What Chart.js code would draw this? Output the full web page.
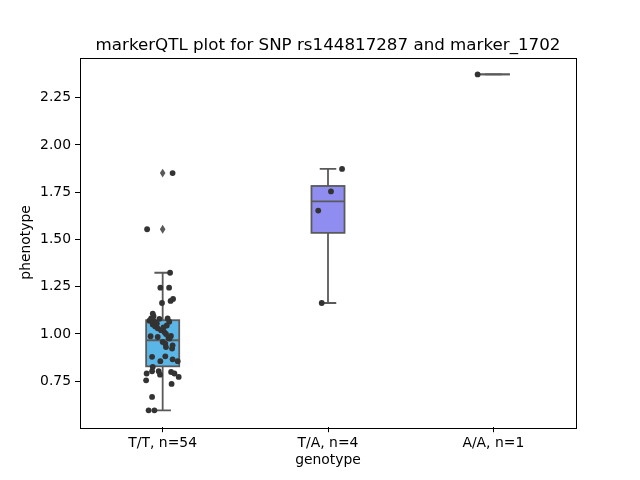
<!DOCTYPE html>
<html>
<head>
<meta charset="utf-8">
<script src="https://cdn.jsdelivr.net/npm/chart.js@4.4.1/dist/chart.umd.min.js"></script>
<style>html,body{margin:0;padding:0;background:#fff}</style>
</head>
<body>
<canvas id="c" width="640" height="480"></canvas>
<script>
const FONT = "'DejaVu Sans', sans-serif";
const TITULO = 'markerQTL plot for SNP rs144817287 and marker_1702';

// categorias y etiquetas
const genotypes = ['T/T', 'T/A', 'A/A'];
const tickLabels = ['T/T, n=54', 'T/A, n=4', 'A/A, n=1'];
const yTicks = [0.75, 1.00, 1.25, 1.50, 1.75, 2.00, 2.25];
const boxColors = ['#5ab6e6', '#8f8ef0', '#e88fe8'];

// estadisticas de las cajas
const q1 = [0.829, 1.535, 2.373];
const med = [0.967, 1.702, 2.373];
const q3 = [1.073, 1.783, 2.373];
const whiskLo = [0.596, 1.164, 2.373];
const whiskHi = [1.324, 1.873, 2.373];
const fliers = [[1.554, 1.851], [], []];

// puntos (valor y desplazamiento horizontal del jitter)
const ttValues = [1.851, 1.554, 1.324, 1.245, 1.245, 1.164, 1.175, 1.185, 1.108, 1.082,
  1.080, 1.082, 1.095, 1.070, 1.065, 1.050, 1.040, 1.030, 1.020, 1.010,
  1.000, 0.990, 0.980, 0.988, 0.984, 0.958, 0.949, 0.976, 0.940, 0.931,
  0.923, 0.879, 0.856, 0.882, 0.866, 0.856, 0.826, 0.755, 0.791, 0.803,
  0.803, 0.785, 0.799, 0.791, 0.773, 0.736, 0.667, 0.596, 0.596, 1.070,
  1.060, 1.055, 1.045, 1.035];
const ttJitter = [0.060, -0.094, 0.045, -0.014, 0.039, -0.004, 0.048, 0.063, -0.060, -0.070,
  -0.020, 0.030, -0.055, -0.080, 0.040, -0.060, -0.045, -0.030, -0.010, 0.010,
  0.020, 0.050, 0.035, -0.073, -0.030, 0.000, 0.016, 0.041, 0.060, 0.020,
  0.057, -0.064, -0.014, 0.016, 0.060, 0.091, -0.060, -0.100, -0.097, -0.064,
  -0.024, -0.016, 0.051, 0.071, 0.097, 0.054, -0.064, -0.085, -0.050, -0.055,
  -0.045, -0.035, 0.025, 0.005];
const taValues = [1.873, 1.754, 1.653, 1.164];
const taJitter = [0.085, 0.018, -0.059, -0.038];
const aaValues = [2.373];
const aaJitter = [-0.095];

const yMin = 0.507, yMax = 2.462;
const BOX_W = 0.2;
const LINEA = '#5a5a5a';

const grupos = [[ttValues, ttJitter], [taValues, taJitter], [aaValues, aaJitter]];
const puntos = [];
grupos.forEach(([vals, jit], i) => {
  vals.forEach((v, k) => puntos.push({ x: i + jit[k], y: v }));
});

Chart.register({
  id: 'cajas',
  beforeDatasetsDraw(chart) {
    const { ctx, scales: { x, y } } = chart;
    ctx.save();
    ctx.lineWidth = 1.8;
    ctx.strokeStyle = LINEA;
    genotypes.forEach((g, i) => {
      const xc = x.getPixelForValue(i);
      const half = x.getPixelForValue(i + BOX_W / 2) - xc;
      const yq1 = y.getPixelForValue(q1[i]), yq3 = y.getPixelForValue(q3[i]);
      const ylo = y.getPixelForValue(whiskLo[i]), yhi = y.getPixelForValue(whiskHi[i]);
      const ym = y.getPixelForValue(med[i]);
      // bigotes
      ctx.beginPath();
      ctx.moveTo(xc, yq3); ctx.lineTo(xc, yhi);
      ctx.moveTo(xc, yq1); ctx.lineTo(xc, ylo);
      ctx.moveTo(xc - half / 2, yhi); ctx.lineTo(xc + half / 2, yhi);
      ctx.moveTo(xc - half / 2, ylo); ctx.lineTo(xc + half / 2, ylo);
      ctx.stroke();
      // caja
      ctx.fillStyle = boxColors[i];
      ctx.fillRect(xc - half, yq3, 2 * half, yq1 - yq3);
      ctx.strokeRect(xc - half, yq3, 2 * half, yq1 - yq3);
      ctx.beginPath();
      ctx.moveTo(xc - half, ym); ctx.lineTo(xc + half, ym);
      ctx.stroke();
      // outliers en diamante
      ctx.fillStyle = LINEA;
      fliers[i].forEach(v => {
        const yp = y.getPixelForValue(v);
        ctx.beginPath();
        ctx.moveTo(xc, yp - 4.4); ctx.lineTo(xc + 2.8, yp);
        ctx.lineTo(xc, yp + 4.4); ctx.lineTo(xc - 2.8, yp);
        ctx.closePath(); ctx.fill();
      });
    });
    ctx.restore();
  },
  afterDraw(chart) {
    const { ctx, chartArea: a } = chart;
    ctx.save();
    ctx.strokeStyle = '#000';
    ctx.lineWidth = 1;
    ctx.strokeRect(Math.round(a.left) + 0.5, Math.round(a.top) + 0.5,
      Math.round(a.right - a.left), Math.round(a.bottom - a.top));
    ctx.fillStyle = '#000';
    ctx.textAlign = 'center';
    ctx.textBaseline = 'alphabetic';
    ctx.font = `16.7px ${FONT}`;
    ctx.fillText(TITULO, (a.left + a.right) / 2, 50);
    ctx.font = `13.9px ${FONT}`;
    ctx.fillText('genotype', (a.left + a.right) / 2, 464);
    ctx.translate(30, (a.top + a.bottom) / 2);
    ctx.rotate(-Math.PI / 2);
    ctx.fillText('phenotype', 0, 0);
    ctx.restore();
  }
});

new Chart(document.getElementById('c'), {
  type: 'scatter',
  data: {
    datasets: [{
      data: puntos,
      backgroundColor: '#333333',
      borderWidth: 0,
      pointRadius: 2.9,
      pointHoverRadius: 2.9
    }]
  },
  options: {
    responsive: false,
    animation: false,
    events: [],
    layout: { padding: { left: 0, right: 64, top: 57.6, bottom: 0 } },
    plugins: { legend: { display: false }, tooltip: { enabled: false }, title: { display: false } },
    scales: {
      x: {
        type: 'linear', min: -0.5, max: 2.5,
        afterBuildTicks: s => { s.ticks = genotypes.map((g, i) => ({ value: i })); },
        afterFit: s => { s.height = 52.8; },
        grid: { drawOnChartArea: false, drawTicks: true, tickLength: 5, color: '#000' },
        border: { display: false },
        ticks: { padding: 3, color: '#000', font: { family: FONT, size: 13.9 }, maxRotation: 0,
          callback: (v, i) => tickLabels[i] }
      },
      y: {
        type: 'linear', min: yMin, max: yMax,
        afterBuildTicks: s => { s.ticks = yTicks.map(v => ({ value: v })); },
        afterFit: s => { s.width = 80; },
        grid: { drawOnChartArea: false, drawTicks: true, tickLength: 5, color: '#000' },
        border: { display: false },
        ticks: { padding: 4, color: '#000', font: { family: FONT, size: 13.9 },
          callback: v => v.toFixed(2) }
      }
    }
  }
});
</script>
</body>
</html>
